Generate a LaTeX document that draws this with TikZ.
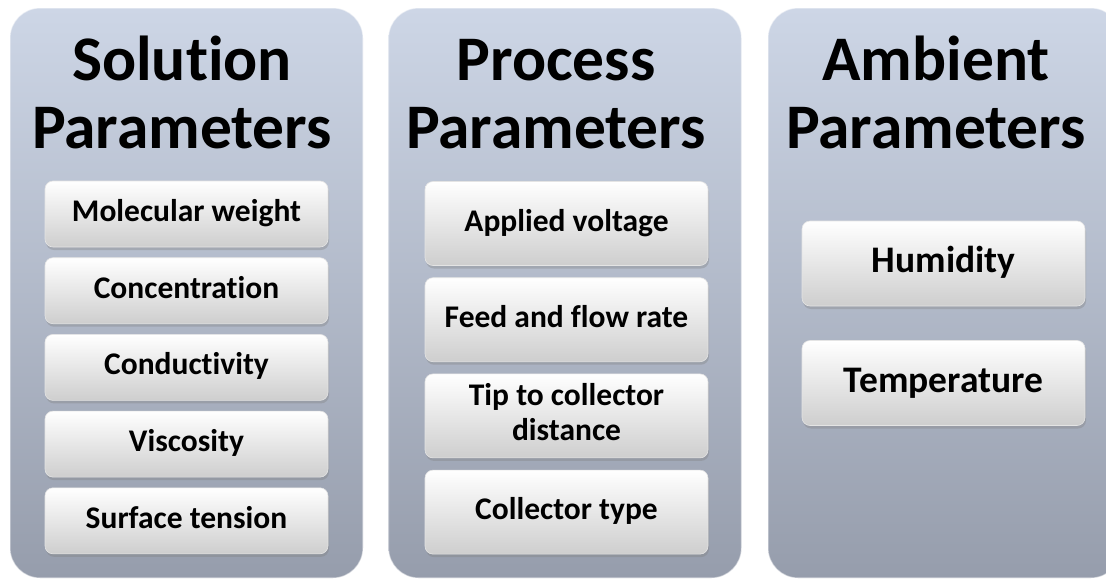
\documentclass[tikz,border=0pt]{standalone}
\usepackage{fontspec}
\setmainfont{Carlito}[Ligatures=NoCommon]
\usetikzlibrary{shadows}

\definecolor{paneltop}{RGB}{205,214,230}
\definecolor{panelbot}{RGB}{150,157,172}
\definecolor{itembot}{RGB}{206,206,206}
\definecolor{itemedge}{RGB}{228,228,228}

\tikzset{
  panel/.style={rectangle, rounded corners=30pt, top color=paneltop,
    bottom color=panelbot, draw=white, draw opacity=0.5, line width=1.2pt,
    minimum width=353pt, minimum height=570pt, inner sep=0pt},
  heading/.style={font=\bfseries\fontsize{63.5}{68}\selectfont,
    align=center, text=black, inner sep=0pt, anchor=base},
  item/.style={rectangle, rounded corners=8pt, top color=white,
    bottom color=itembot, draw=itemedge, line width=0.6pt,
    minimum width=283pt, inner sep=0pt, align=center,
    font=\bfseries\fontsize{31.5}{35}\selectfont,
    drop shadow={shadow xshift=1pt, shadow yshift=-3pt, opacity=0.35}},
  oneline/.style={text height=23pt, text depth=8pt},
  bigitem/.style={font=\bfseries\fontsize{37.5}{42}\selectfont,
    text height=27.5pt, text depth=9.5pt},
}

\begin{document}
\begin{tikzpicture}[x=1pt, y=-1pt]
  \clip (0,0) rectangle (1106,579);
  \fill[white] (0,0) rectangle (1106,579);

  % three column panels
  \node[panel] (solpanel)  at (186.5,293) {};
  \node[panel] (procpanel) at (565,293) {};
  \node[panel] (ambpanel)  at (944.5,293) {};

  % column headings (anchored at the baseline of the second line)
  \node[heading] (soltitle)  at (182,148) {Solution\\Parameters};
  \node[heading] (proctitle) at (556,148) {Process\\Parameters};
  \node[heading] (ambtitle)  at (936,148) {Ambient\\Parameters};

  % solution parameters
  \node[item, oneline, minimum height=66pt] (s1) at (186.5,214.0) {Molecular weight};
  \node[item, oneline, minimum height=66pt] (s2) at (186.5,290.7) {Concentration};
  \node[item, oneline, minimum height=66pt] (s3) at (186.5,367.4) {Conductivity};
  \node[item, oneline, minimum height=66pt] (s4) at (186.5,444.1) {Viscosity};
  \node[item, oneline, minimum height=66pt] (s5) at (186.5,520.8) {Surface tension};

  % process parameters
  \node[item, oneline, minimum height=84pt] (p1) at (566.5,223.5) {Applied voltage};
  \node[item, oneline, minimum height=84pt] (p2) at (566.5,319.7) {Feed and flow rate};
  \node[item, minimum height=84pt, text depth=8pt] (p3) at (566.5,415.9) {Tip to collector\\distance};
  \node[item, oneline, minimum height=84pt] (p4) at (566.5,512.1) {Collector type};

  % ambient parameters
  \node[item, bigitem, minimum height=85pt] (a1) at (943.5,263.5) {Humidity};
  \node[item, bigitem, minimum height=85pt] (a2) at (943.5,383.0) {Temperature};
\end{tikzpicture}
\end{document}
